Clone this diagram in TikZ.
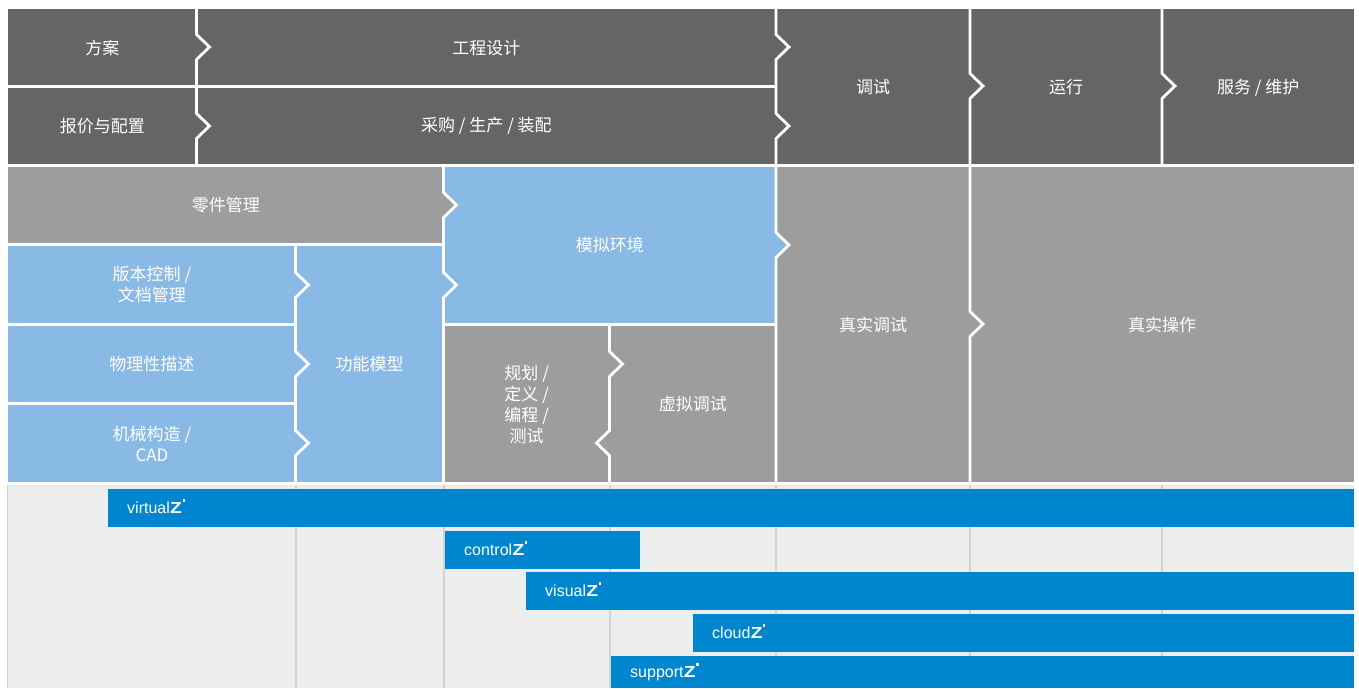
\documentclass[tikz,border=0pt]{standalone}
\usepackage{fontspec}
\setmainfont{Liberation Sans}
\newfontfamily\cjk{Noto Sans CJK SC}
\definecolor{dk}{HTML}{656563}
\definecolor{gr}{HTML}{9D9D9D}
\definecolor{bl}{HTML}{89BAE5}
\definecolor{barblue}{HTML}{0086CF}
\definecolor{bgl}{HTML}{EDEDED}
\definecolor{gridc}{HTML}{D2D2D2}
\newcommand\cellnode[7]{\node[cellbox, fill=#2, minimum width={(#5-#3)*1pt}, minimum height={(#6-#4)*1pt}] (#1) at (#3,#4) {#7};}
\newcommand\barnode[6]{\node[barbox, minimum width={(#4-#2)*1pt}, minimum height={(#5-#3)*1pt}] (#1) at (#2,#3) {};
  \node[bartext] (#1t) at ([xshift=19pt,yshift=-5.5pt]#1.west) {#6\zz};}
\newcommand\zz{\kern0.3pt\scalebox{1.2}[1]{\bfseries Z}\kern0.6pt\raisebox{11.8pt}{\rule{2.4pt}{2.4pt}}}
\newcommand\cR[2]{-- (#1,#2-12.5) -- (#1+13,#2) -- (#1,#2+12.5)}
\newcommand\cL[2]{-- (#1,#2-12.5) -- (#1-13,#2) -- (#1,#2+12.5)}
\newcommand\triR[3]{\fill[#3] (#1,#2-12.5) -- (#1+13,#2) -- (#1,#2+12.5) -- cycle;}
\newcommand\triL[3]{\fill[#3] (#1,#2-12.5) -- (#1-13,#2) -- (#1,#2+12.5) -- cycle;}
\begin{document}
\begin{tikzpicture}[x=1pt,y=-1pt,
  cellbox/.style={inner sep=0pt, anchor=north west, text=white, align=center,
    font=\cjk\fontsize{17}{21}\selectfont},
  barbox/.style={inner sep=0pt, anchor=north west, fill=barblue},
  bartext/.style={inner sep=0pt, anchor=base west, text=white, font=\fontsize{16}{16}\selectfont},
  sepline/.style={draw=white, line width=2.8pt},
  gridline/.style={draw=gridc, line width=2pt}]
\useasboundingbox[fill=white] (0,0) rectangle (1359,688);
% bottom band
\fill[bgl] (7,485) rectangle (1354,688);
\draw[gridc, line width=1.5pt] (7.5,485) -- (7.5,688);
\foreach \gx in {295.5,443.5,609.5,776,970,1162}
  \draw[gridline] (\gx,485) -- (\gx,688);
% top rows
\cellnode{fa}{dk}{8}{9}{196.5}{86.5}{方案}
\cellnode{gc}{dk}{196.5}{9}{776}{86.5}{工程设计}
\cellnode{bj}{dk}{8}{86.5}{196.5}{165.5}{报价与配置}
\cellnode{cg}{dk}{196.5}{86.5}{776}{165.5}{采购 / 生产 / 装配}
\cellnode{ts}{dk}{776}{9}{970}{165.5}{调试}
\cellnode{yx}{dk}{970}{9}{1162}{165.5}{运行}
\cellnode{fw}{dk}{1162}{9}{1354}{165.5}{服务 / 维护}
% middle
\cellnode{lj}{gr}{8}{165.5}{443.5}{244.5}{零件管理}
\cellnode{mn}{bl}{443.5}{165.5}{776}{324.5}{模拟环境}
\cellnode{zt}{gr}{776}{165.5}{970}{483.5}{真实调试}
\cellnode{zc}{gr}{970}{165.5}{1354}{483.5}{真实操作}
\cellnode{bb}{bl}{8}{244.5}{295.5}{324.5}{版本控制 /\\文档管理}
\cellnode{wl}{bl}{8}{324.5}{295.5}{403.5}{物理性描述}
\cellnode{jx}{bl}{8}{403.5}{295.5}{483.5}{机械构造 /\\CAD}
\cellnode{gn}{bl}{295.5}{244.5}{443.5}{483.5}{功能模型}
\cellnode{gh}{gr}{443.5}{324.5}{609.5}{483.5}{规划 /\\定义 /\\编程 /\\测试}
\cellnode{xn}{gr}{609.5}{324.5}{776}{483.5}{虚拟调试}
% chevron tips
\triR{196.5}{47}{dk}
\triR{196.5}{126}{dk}
\triR{776}{47}{dk}
\triR{776}{126}{dk}
\triR{970}{86}{dk}
\triR{1162}{86}{dk}
\triR{443.5}{205}{gr}
\triR{443.5}{285}{bl}
\triR{776}{245}{bl}
\triR{970}{324}{gr}
\triR{295.5}{285}{bl}
\triR{295.5}{364}{bl}
\triR{295.5}{443}{bl}
\triR{609.5}{364}{gr}
\triL{609.5}{443}{gr}
% horizontal separators
\draw[sepline] (8,86.5) -- (776,86.5);
\draw[sepline] (0,165.5) -- (1359,165.5);
\draw[sepline] (8,244.5) -- (443.5,244.5);
\draw[sepline] (8,324.5) -- (295.5,324.5);
\draw[sepline] (443.5,324.5) -- (776,324.5);
\draw[sepline] (8,403.5) -- (295.5,403.5);
\draw[sepline] (0,483.5) -- (1359,483.5);
% vertical separators with chevrons
\draw[sepline] (196.5,9) \cR{196.5}{47} \cR{196.5}{126} -- (196.5,165.5);
\draw[sepline] (776,9) \cR{776}{47} \cR{776}{126} \cR{776}{245} -- (776,483.5);
\draw[sepline] (970,9) \cR{970}{86} \cR{970}{324} -- (970,483.5);
\draw[sepline] (1162,9) \cR{1162}{86} -- (1162,165.5);
\draw[sepline] (443.5,165.5) \cR{443.5}{205} \cR{443.5}{285} -- (443.5,483.5);
\draw[sepline] (295.5,244.5) \cR{295.5}{285} \cR{295.5}{364} \cR{295.5}{443} -- (295.5,483.5);
\draw[sepline] (609.5,324.5) \cR{609.5}{364} \cL{609.5}{443} -- (609.5,483.5);
% product bars
\barnode{vz}{108}{489}{1354}{526.5}{virtual}
\barnode{cz}{445}{531}{640}{568.5}{control}
\barnode{sz}{526}{572}{1354}{609.5}{visual}
\barnode{dz}{693}{614}{1354}{651.5}{cloud}
\barnode{pz}{611}{655.5}{1354}{688}{support}
\end{tikzpicture}
\end{document}
